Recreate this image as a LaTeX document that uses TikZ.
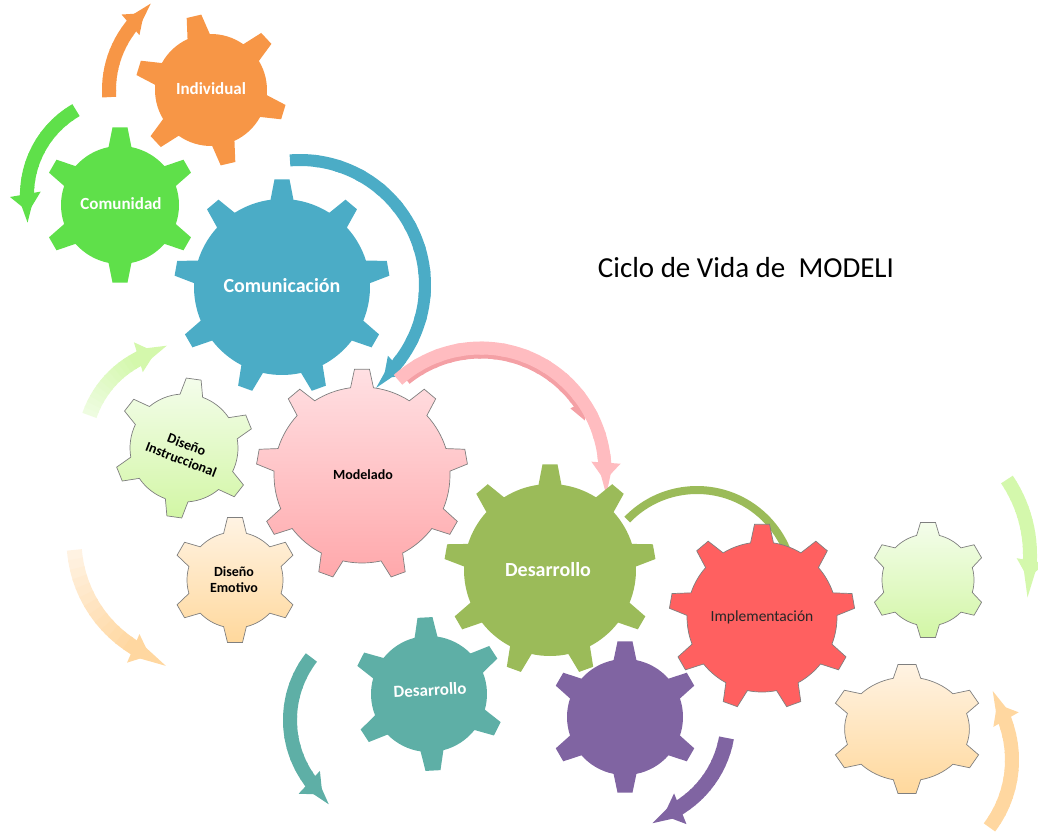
\documentclass[tikz,border=0pt]{standalone}
\usepackage{fontspec}
\setmainfont{Carlito}
\usetikzlibrary{arrows.meta}
\definecolor{cOrange}{HTML}{F79646}
\definecolor{cGreen}{HTML}{5FE04A}
\definecolor{cBlue}{HTML}{4BACC6}
\definecolor{cOlive}{HTML}{9BBB59}
\definecolor{cRed}{HTML}{FF6060}
\definecolor{cTeal}{HTML}{5EAFA6}
\definecolor{cPurple}{HTML}{8064A2}
\definecolor{cPinkT}{HTML}{FFE0E3}
\definecolor{cPinkB}{HTML}{FFA8AB}
\definecolor{cLgT}{HTML}{F4FDEB}
\definecolor{cLgB}{HTML}{D2F6A5}
\definecolor{cPeT}{HTML}{FFF3E3}
\definecolor{cPeB}{HTML}{FFD89C}
\definecolor{aLgA}{HTML}{EEFCE0}
\definecolor{aLgB}{HTML}{D4F8AC}
\definecolor{aPeA}{HTML}{FFF2E2}
\definecolor{aPeB}{HTML}{FFD7A0}
\definecolor{aPink}{HTML}{FFBCC0}
\definecolor{aPinkD}{HTML}{F4A0A5}
\definecolor{cEdge}{HTML}{7F7F7F}
\tikzset{
  wtxt/.style={text=white, font=\bfseries\fontsize{17}{19}\selectfont, align=center, inner sep=0pt},
  btxt/.style={text=black, font=\bfseries\fontsize{14}{16}\selectfont, align=center, inner sep=0pt},
  pastel/.style={draw=cEdge, line width=0.7pt},
}
% gear: cx, cy, rb, ro, n, first tooth angle (screen), style
\newcommand\gear[7]{%
 \begin{scope}[shift={(#1,#2)}]
  \pgfmathsetmacro\gbw{11.5/#3*57.2958}
  \pgfmathsetmacro\gtw{7.5/#4*57.2958}
  \pgfmathsetmacro\gst{360/#5}
  \pgfmathtruncatemacro\gnn{#5-1}
  \path[#7] ({#6-\gbw}:#3)
   \foreach \k in {0,...,\gnn}{
     -- ({#6+\k*\gst-\gtw}:#4) -- ({#6+\k*\gst+\gtw}:#4) -- ({#6+\k*\gst+\gbw}:#3)
     arc[start angle={#6+\k*\gst+\gbw}, end angle={#6+(\k+1)*\gst-\gbw}, radius=#3]
   } -- cycle;
 \end{scope}}
% curved arrow: cx, cy, R, a1, a2, tail colour, head colour, width, head width
\newcommand\garrow[9]{%
 \begin{scope}[shift={(#1,#2)}]
  \pgfmathsetmacro\gd{sign(#5-#4)*26/#3*57.2958}
  \pgfmathsetmacro\gm{#5-\gd}
  \foreach \i in {0,...,11}{
    \pgfmathsetmacro\sa{#4+(\gm-#4)*\i/12}
    \pgfmathsetmacro\sb{#4+(\gm-#4)*(\i+1.2)/12}
    \pgfmathtruncatemacro\pc{100*\i/12}
    \draw[line width=#8, draw=#7!\pc!#6] (\sa:#3) arc[start angle=\sa, end angle=\sb, radius=#3];
  }
  \draw[line width=#8, draw=#7, -{Triangle[width=#9, length=18pt]}] (\gm:#3) arc[start angle=\gm, end angle=#5, radius=#3];
 \end{scope}}
\begin{document}
\begin{tikzpicture}[x=1pt,y=-1pt]
\useasboundingbox (0,0) rectangle (1038,832);
% ---- arrows ----
\garrow{211}{90}{102}{176}{229}{cOrange}{cOrange}{14pt}{26pt}
\garrow{125}{195}{98}{240}{170}{cGreen}{cGreen}{14pt}{30pt}
\garrow{184}{448}{100}{199}{253.5}{aLgA}{aLgB}{15pt}{30pt}
\garrow{200}{540}{126}{175.5}{113.5}{aPeA}{aPeB}{15pt}{30pt}
\garrow{392}{720}{102}{217.8}{133}{cTeal}{cTeal}{14pt}{30pt}
\garrow{625}{720}{103}{10}{68}{cPurple}{cPurple}{15pt}{32pt}
\garrow{895}{555}{135}{-34}{10}{aLgB}{aLgB}{14pt}{28pt}
\garrow{900}{760}{112}{37}{-30}{aPeB}{aPeB}{14pt}{28pt}
\begin{scope}[shift={(697,587)}]
  \draw[line width=8pt, draw=cOlive] (-136:97) arc[start angle=-136, end angle=-5, radius=97];
\end{scope}
\garrow{300}{285}{125}{-94.6}{48}{cBlue}{cBlue}{12pt}{26pt}
\garrow{481}{472}{116}{-129}{-26}{aPinkD}{aPinkD}{5pt}{14pt}
\garrow{481}{472}{124}{-132}{4}{aPink}{aPink}{13pt}{28pt}
% ---- gears ----
\gear{211}{90}{56}{76}{6}{-103}{fill=cOrange}
\gear{120}{205}{59}{78}{6}{-90}{fill=cGreen}
\gear{282}{287}{88}{108}{9}{-90}{fill=cBlue}
\gear{362}{475}{88}{106}{9}{-90}{pastel, top color=cPinkT, bottom color=cPinkB}
\gear{184}{448}{54}{70}{6}{-82}{pastel, top color=cLgT, bottom color=cLgB}
\gear{235}{580}{48}{63}{6}{-90}{pastel, top color=cPeT, bottom color=cPeB}
\gear{429}{694}{58}{77}{6}{-93}{fill=cTeal}
\gear{625}{717}{58}{76}{6}{-90}{fill=cPurple}
\gear{550}{570}{86}{106}{9}{-90}{fill=cOlive}
\gear{762}{617}{75}{93}{9}{-90}{fill=cRed, draw=cEdge, line width=0.7pt}
\gear{928}{580}{46}{58}{6}{-90}{pastel, top color=cLgT, bottom color=cLgB}
\begin{scope}[shift={(907,729)}, xscale=1.2]
  \gear{0}{0}{52}{65}{6}{-90}{pastel, top color=cPeT, bottom color=cPeB}
\end{scope}
% ---- labels ----
\node[wtxt] (ind) at (211,89) {Individual};
\node[wtxt] (com) at (121,204) {Comunidad};
\node[wtxt, font=\bfseries\fontsize{20}{22}\selectfont] (comu) at (282,286) {Comunicación};
\node[btxt] (mod) at (363,475) {Modelado};
\node[btxt, rotate=-21] (di) at (184,452) {Diseño\\Instruccional};
\node[btxt] (de) at (234,580) {Diseño\\Emotivo};
\node[wtxt, font=\bfseries\fontsize{20}{22}\selectfont] (des) at (548,570) {Desarrollo};
\node[text=black!85, font=\fontsize{15.5}{17}\selectfont, inner sep=0pt] (imp) at (762,617) {Implementación};
\node[wtxt, rotate=3] (des2) at (430,690) {Desarrollo};
\node[text=black, font=\fontsize{29}{32}\selectfont, inner sep=0pt] (title) at (746,268) {Ciclo de Vida de\ \ MODELI};
\end{tikzpicture}
\end{document}
